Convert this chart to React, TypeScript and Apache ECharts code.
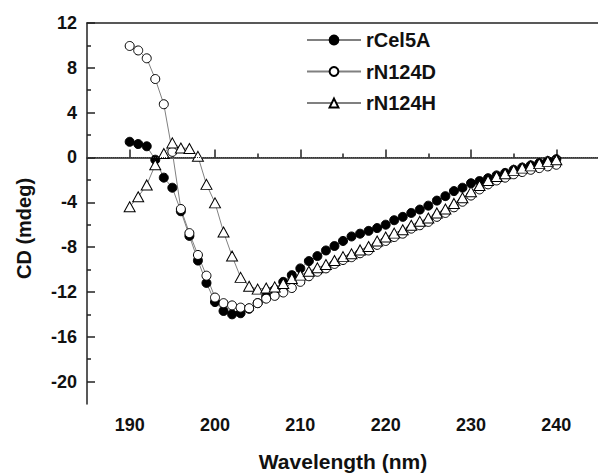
import React, { useEffect, useRef } from "react";
import * as echarts from "echarts";

const wavelength = [
  190, 191, 192, 193, 194, 195, 196, 197, 198, 199,
  200, 201, 202, 203, 204, 205, 206, 207, 208, 209,
  210, 211, 212, 213, 214, 215, 216, 217, 218, 219,
  220, 221, 222, 223, 224, 225, 226, 227, 228, 229,
  230, 231, 232, 233, 234, 235, 236, 237, 238, 239, 240,
];

const rCel5A = [
  1.4, 1.2, 1.0, -0.2, -1.8, -2.7, -4.8, -7.0, -9.2, -11.2,
  -12.9, -13.7, -14.0, -13.9, -13.5, -13.0, -12.4, -11.8, -11.1, -10.5,
  -9.9, -9.25, -8.8, -8.3, -7.9, -7.45, -7.05, -6.8, -6.55, -6.3,
  -6.0, -5.6, -5.3, -4.95, -4.65, -4.3, -3.85, -3.45, -3.0, -2.7,
  -2.3, -2.1, -1.85, -1.6, -1.38, -1.1, -0.9, -0.7, -0.5, -0.32, -0.15,
];

const rN124D = [
  9.95, 9.55, 8.85, 7.0, 4.75, 0.5, -4.6, -6.75, -8.7, -10.55,
  -12.5, -13.0, -13.2, -13.4, -13.45, -13.0, -12.6, -12.35, -12.05, -11.65,
  -11.1, -10.6, -10.2, -9.9, -9.5, -9.15, -8.9, -8.55, -8.3, -7.8,
  -7.45, -7.1, -6.8, -6.35, -6.05, -5.75, -5.3, -4.95, -4.45, -3.95,
  -3.4, -2.85, -2.4, -2.05, -1.8, -1.5, -1.3, -1.1, -0.95, -0.8, -0.65,
];

const rN124H = [
  -4.4, -3.5, -2.45, -0.65, 0.35, 1.3, 0.85, 0.8, 0.1, -2.4,
  -4.05, -6.65, -8.8, -10.7, -11.5, -11.75, -11.65, -11.55, -11.25, -10.8,
  -10.5, -10.15, -9.85, -9.55, -9.2, -8.85, -8.6, -8.25, -7.95, -7.45,
  -7.1, -6.75, -6.45, -6.05, -5.7, -5.4, -4.95, -4.6, -4.1, -3.6,
  -3.05, -2.5, -2.05, -1.7, -1.45, -1.15, -0.95, -0.75, -0.55, -0.35, -0.2,
];

const xMajorTicks = [190, 200, 210, 220, 230, 240];
const xMinorTicks = [195, 205, 215, 225, 235];
const yMajorTicks = [-20, -16, -12, -8, -4, 0, 4, 8, 12];
const yMinorTicks = [-18, -14, -10, -6, -2, 2, 6, 10];

const FONT = '"Liberation Sans", Arial, sans-serif';
const AXIS_COLOR = "#222";

export default function App() {
  const ref = useRef<HTMLDivElement>(null);

  useEffect(() => {
    if (!ref.current) return;
    const chart = echarts.init(ref.current, undefined, { renderer: "svg" });

    const pairs = (vals: number[]) => wavelength.map((w, i) => [w, vals[i]]);

    const baseX = {
      type: "value" as const,
      min: 185,
      max: 245,
      splitLine: { show: false },
    };
    const baseY = {
      type: "value" as const,
      min: -22,
      max: 12,
      splitLine: { show: false },
    };

    const lineStyle = { color: "#808080", width: 1 };

    chart.setOption({
      animation: false,
      backgroundColor: "#fff",
      textStyle: { fontFamily: FONT },
      grid: {
        left: 87,
        top: 23,
        right: -1,
        bottom: 69,
        containLabel: false,
        outerBoundsMode: "none",
      },
      legend: {
        orient: "vertical",
        left: 301,
        top: 25,
        itemWidth: 54,
        itemHeight: 11,
        itemGap: 11.5,
        selectedMode: false,
        textStyle: {
          fontFamily: FONT,
          fontWeight: "bold",
          fontSize: 20,
          color: "#111",
        },
        data: ["rCel5A", "rN124D", "rN124H"],
      },
      xAxis: [
        {
          ...baseX,
          position: "bottom",
          axisLine: { show: true, lineStyle: { color: AXIS_COLOR, width: 1.5 } },
          axisTick: {
            show: true,
            inside: true,
            length: 8,
            customValues: xMajorTicks,
            lineStyle: { color: AXIS_COLOR, width: 1.5 },
          },
          axisLabel: {
            show: true,
            customValues: xMajorTicks,
            margin: 12,
            fontFamily: FONT,
            fontWeight: "bold",
            fontSize: 18,
            color: "#111",
          },
          name: "Wavelength (nm)",
          nameLocation: "middle",
          nameGap: 47,
          nameTextStyle: {
            fontFamily: FONT,
            fontWeight: "bold",
            fontSize: 21,
            color: "#111",
          },
        },
        {
          ...baseX,
          position: "bottom",
          axisLine: { show: false },
          axisTick: {
            show: true,
            inside: true,
            length: 4,
            customValues: xMinorTicks,
            lineStyle: { color: AXIS_COLOR, width: 1.5 },
          },
          axisLabel: { show: false },
        },
        {
          ...baseX,
          position: "top",
          axisLine: { show: true, lineStyle: { color: AXIS_COLOR, width: 1.5 } },
          axisTick: { show: false },
          axisLabel: { show: false },
        },
      ],
      yAxis: [
        {
          ...baseY,
          position: "left",
          axisLine: { show: true, lineStyle: { color: AXIS_COLOR, width: 1.5 } },
          axisTick: {
            show: true,
            inside: true,
            length: 8,
            customValues: yMajorTicks,
            lineStyle: { color: AXIS_COLOR, width: 1.5 },
          },
          axisLabel: {
            show: true,
            customValues: yMajorTicks,
            margin: 10,
            fontFamily: FONT,
            fontWeight: "bold",
            fontSize: 18,
            color: "#111",
          },
          name: "CD (mdeg)",
          nameLocation: "middle",
          nameGap: 53,
          nameRotate: 90,
          nameTextStyle: {
            fontFamily: FONT,
            fontWeight: "bold",
            fontSize: 20,
            color: "#111",
            padding: [0, 30, 0, 0],
          },
        },
        {
          ...baseY,
          position: "left",
          axisLine: { show: false },
          axisTick: {
            show: true,
            inside: true,
            length: 4,
            customValues: yMinorTicks,
            lineStyle: { color: AXIS_COLOR, width: 1.5 },
          },
          axisLabel: { show: false },
        },
      ],
      series: [
        {
          name: "rCel5A",
          type: "line",
          xAxisIndex: 0,
          yAxisIndex: 0,
          data: pairs(rCel5A),
          symbol: "circle",
          symbolSize: 9,
          lineStyle,
          itemStyle: { color: "#000", borderColor: "#000", borderWidth: 1 },
          markLine: {
            silent: true,
            symbol: "none",
            label: { show: false },
            lineStyle: { color: "#333", type: "dotted", width: 1 },
            data: [{ yAxis: 0 }],
          },
        },
        {
          name: "rN124D",
          type: "line",
          xAxisIndex: 0,
          yAxisIndex: 0,
          data: pairs(rN124D),
          symbol: "circle",
          symbolSize: 9,
          lineStyle,
          itemStyle: { color: "#fff", borderColor: "#000", borderWidth: 1 },
        },
        {
          name: "rN124H",
          type: "line",
          xAxisIndex: 0,
          yAxisIndex: 0,
          data: pairs(rN124H),
          symbol: "triangle",
          symbolSize: [11, 10],
          lineStyle,
          itemStyle: { color: "#fff", borderColor: "#000", borderWidth: 1 },
        },
      ],
    });

    return () => chart.dispose();
  }, []);

  return (
    <div
      ref={ref}
      style={{ position: "fixed", left: 0, top: 0, width: 598, height: 473, background: "#fff" }}
    />
  );
}
